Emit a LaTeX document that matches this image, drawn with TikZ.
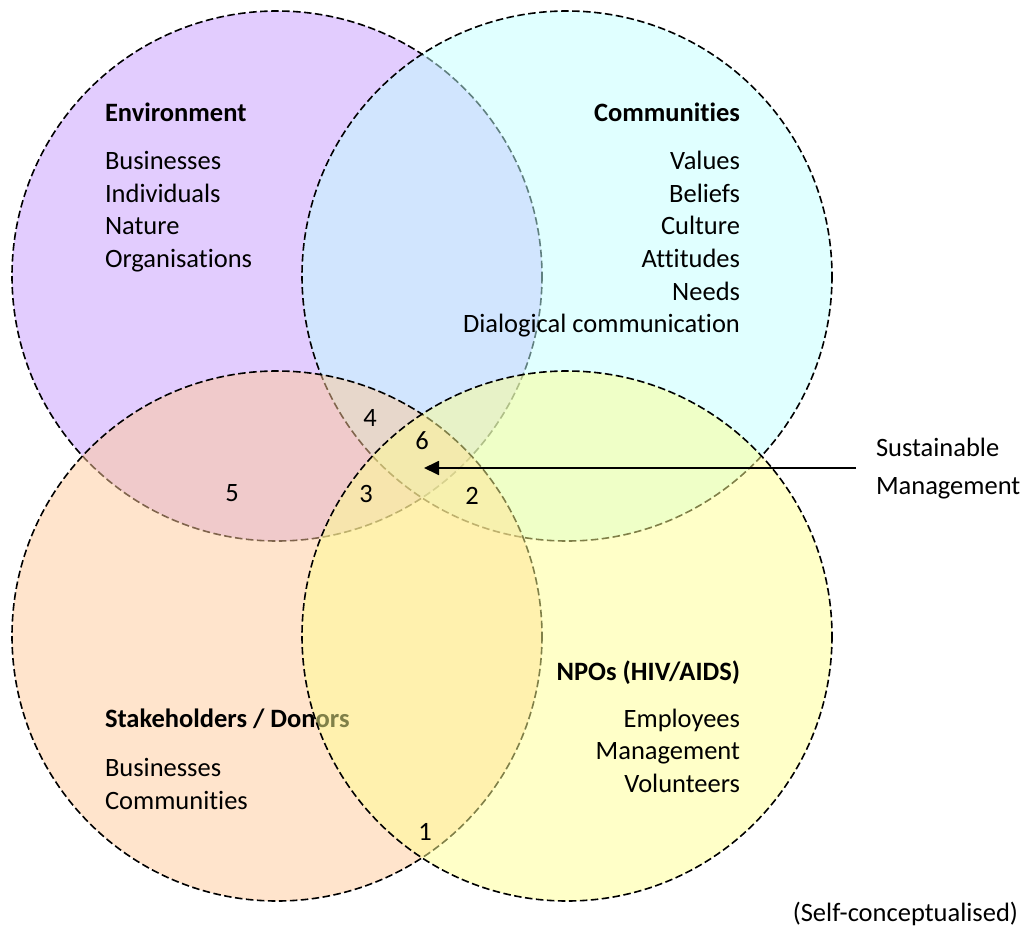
\documentclass[tikz,border=0pt]{standalone}
\usepackage{fontspec}
\setmainfont[Ligatures=NoCommon]{Carlito}
\usetikzlibrary{arrows.meta}
\definecolor{envc}{RGB}{197,153,253}
\definecolor{comc}{RGB}{193,255,255}
\definecolor{stkc}{RGB}{255,201,153}
\definecolor{npoc}{RGB}{255,255,145}
\tikzset{
  venn/.style={draw=black, line width=1.6pt, dash pattern=on 7.5pt off 3.5pt, fill opacity=0.5},
  lbl/.style={font=\fontsize{26.5}{32.5}\selectfont, inner sep=0pt, outer sep=0pt},
  hdr/.style={font=\fontsize{26.5}{32.5}\selectfont\bfseries, inner sep=0pt, outer sep=0pt},
  lw/.style={lbl, anchor=base west},
  le/.style={lbl, anchor=base east},
  num/.style={lbl, anchor=center},
}
\begin{document}
\begin{tikzpicture}[x=1pt,y=-1pt]
\useasboundingbox (0,0) rectangle (1022,941);
% circles (drawing order matters)
\path[venn, fill=envc] (277,276) circle (265);
\path[venn, fill=comc] (567,276) circle (265);
\path[venn, fill=stkc] (277,636) circle (265);
% Stakeholders text lies below the NPO circle
\node[hdr, anchor=base west] (stkh) at (105,727) {Stakeholders / Donors};
\foreach \t [count=\i] in {Businesses,Communities}
  \node[lw] (stk\i) at (105,{776+33*(\i-1)}) {\t};
\path[venn, fill=npoc] (567,636) circle (265);
% Environment
\node[hdr, anchor=base west] (envh) at (105,122) {Environment};
\foreach \t [count=\i] in {Businesses,Individuals,Nature,Organisations}
  \node[lw] (env\i) at (105,{170+32.5*(\i-1)}) {\t};
% Communities
\node[hdr, anchor=base east] (comh) at (740,122) {Communities};
\foreach \t [count=\i] in {Values,Beliefs,Culture,Attitudes,Needs,Dialogical communication}
  \node[le] (com\i) at (740,{170+32.5*(\i-1)}) {\t};
% NPOs
\node[hdr, anchor=base east] (npoh) at (740,680) {NPOs (HIV/AIDS)};
\foreach \t [count=\i] in {Employees,Management,Volunteers}
  \node[le] (npo\i) at (740,{727+32.5*(\i-1)}) {\t};
% numbers
\node[num] (n4) at (370,418) {4};
\node[num] (n6) at (422,441) {6};
\node[num] (n5) at (232,493) {5};
\node[num] (n3) at (366,494) {3};
\node[num] (n2) at (472,496) {2};
\node[num] (n1) at (425,832) {1};
% sustainable management
\node[lw] (sus1) at (876,456) {Sustainable};
\node[lw] (sus2) at (876,494) {Management};
\coordinate (arrtail) at (856,468);
\coordinate (arrtip) at (424,468);
\draw[line width=1.8pt, -{Triangle[length=15pt,width=14pt]}] (arrtail) -- (arrtip);
% source
\node[le] (src) at (1018,921) {(Self-conceptualised)};
\end{tikzpicture}
\end{document}
